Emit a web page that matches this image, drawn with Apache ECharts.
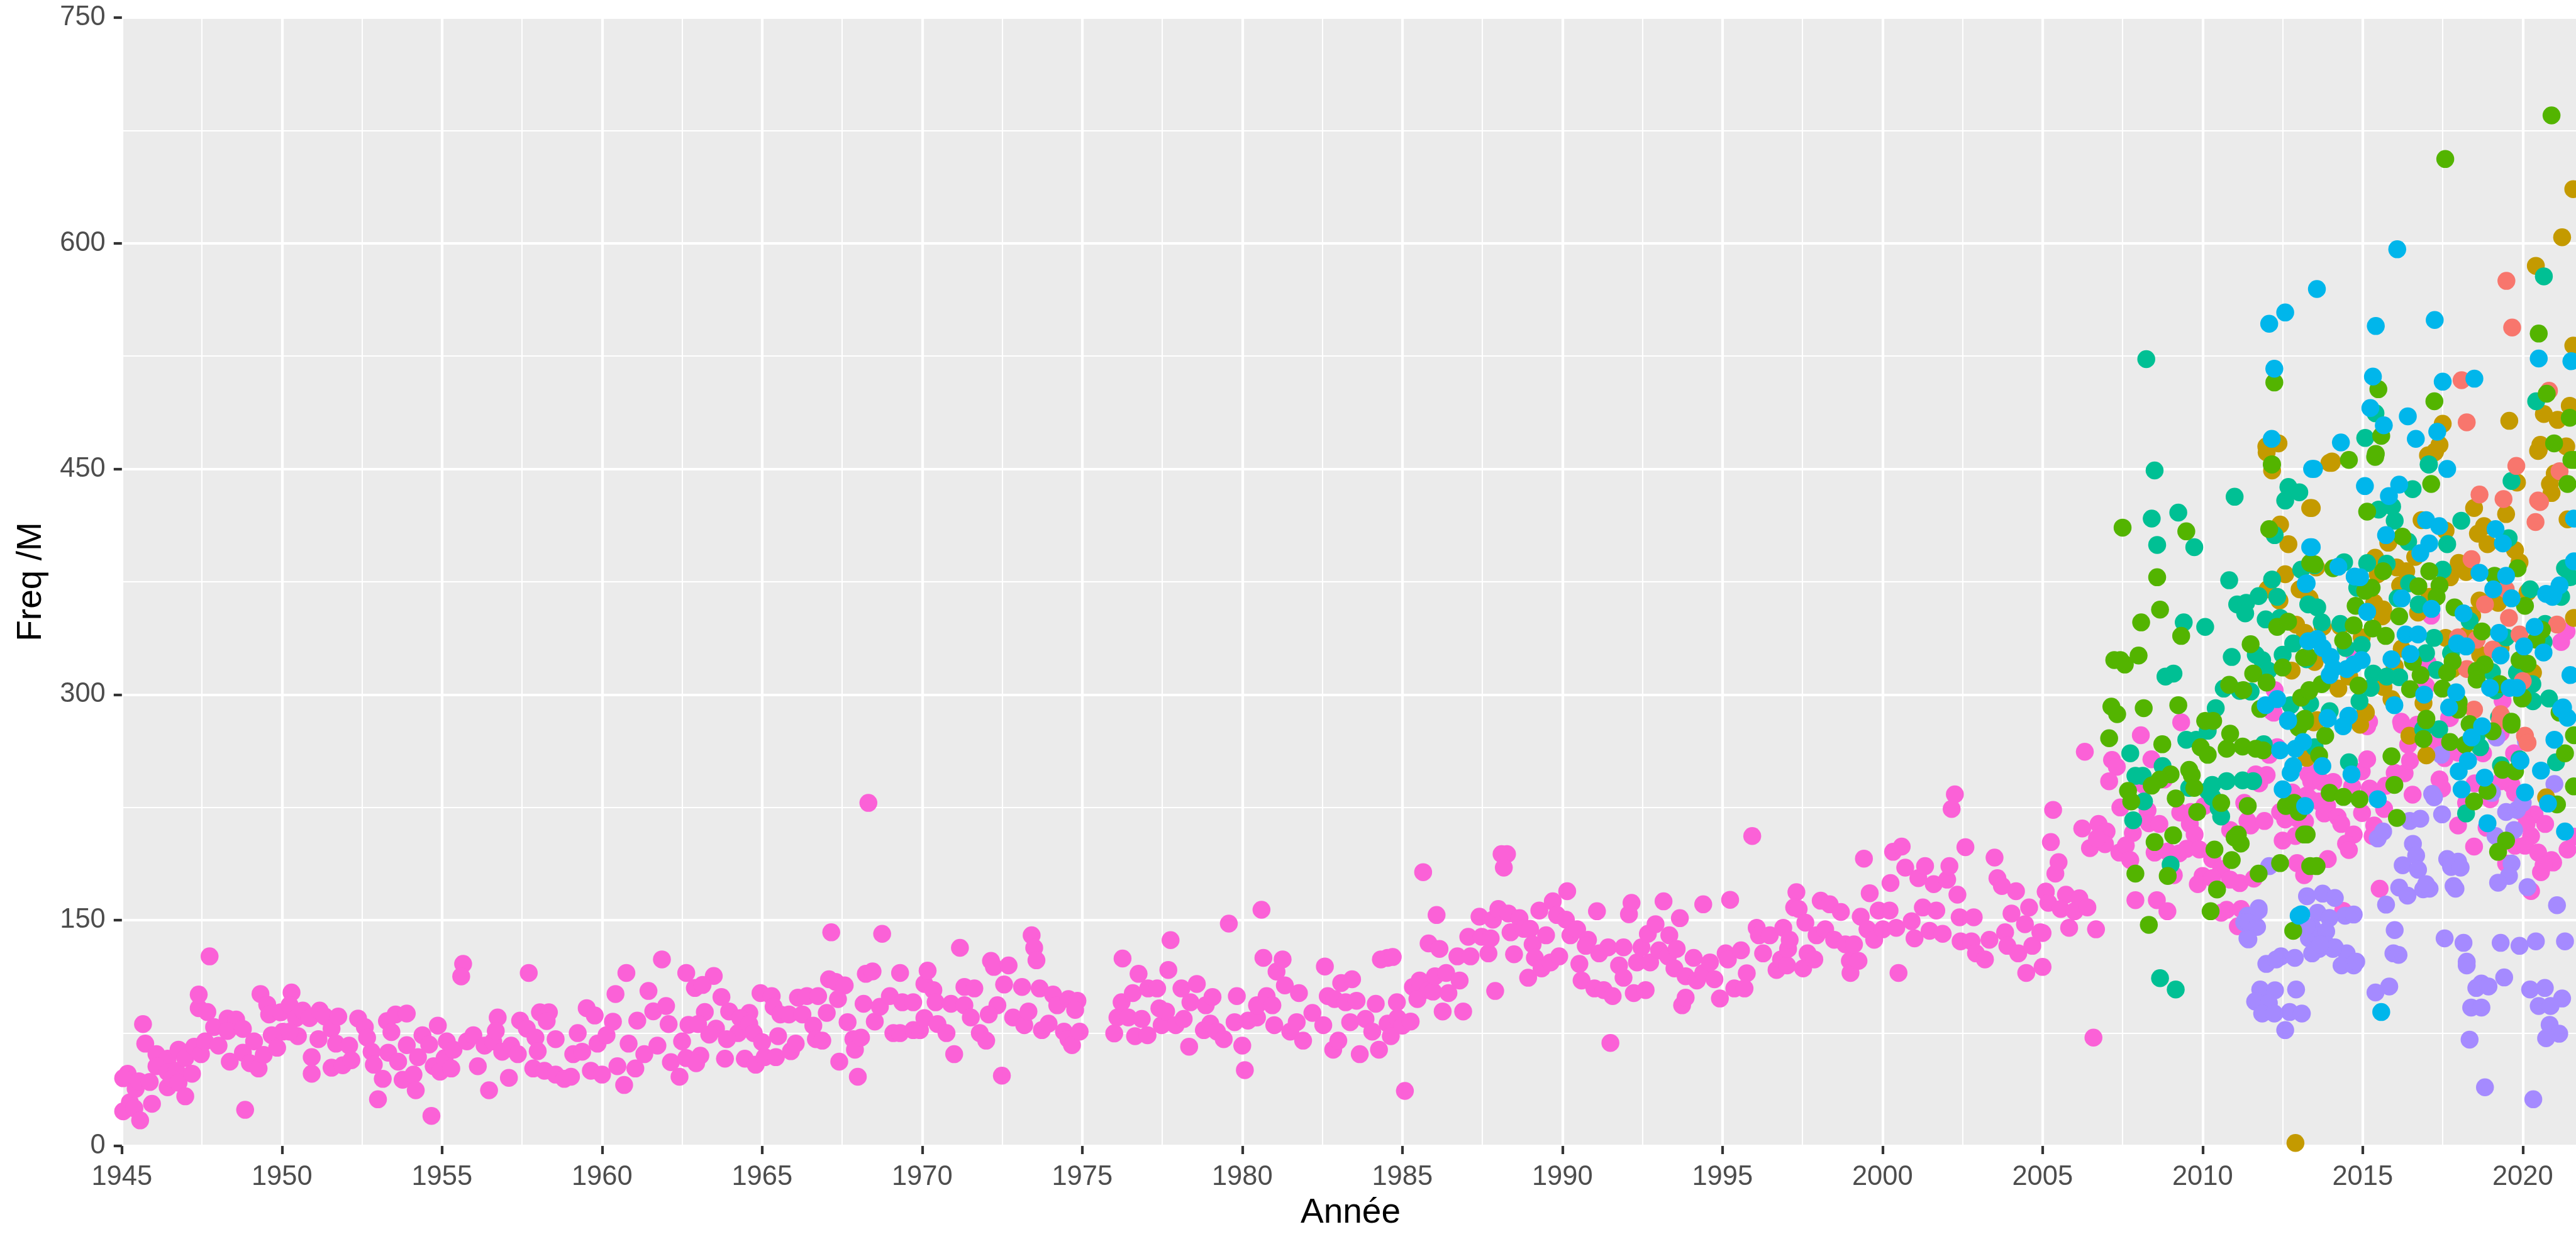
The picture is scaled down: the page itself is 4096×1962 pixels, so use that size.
<!DOCTYPE html>
<html><head><meta charset="utf-8"><style>html,body{margin:0;padding:0;background:#fff;overflow:hidden}#c{width:4096px;height:1962px}</style>
<script src="https://cdn.jsdelivr.net/npm/echarts@6/dist/echarts.min.js"></script></head><body><div id="c"></div>
<script>
const yearTicks=[1945,1950,1955,1960,1965,1970,1975,1980,1985,1990,1995,2000,2005,2010,2015,2020];
const freqTicks=[0,150,300,450,600,750];
const colorNames=["pink","purple","gold","teal","salmon","green","blue"];
const pink1945=[1945.18,48,1945.04,45,1945.25,29,1945.04,23,1945.39,25,1945.43,38,1945.57,17,1945.53,43,1945.87,42.5,1945.94,28,1945.73,68,1945.66,81,1946.08,61,1946.43,58,1946.08,53,1946.43,49,1946.43,39,1946.77,64,1946.7,50,1946.57,44.6,1946.98,58.4,1946.77,42,1946.98,33,1947.19,48,1947.26,66,1947.47,61,1947.6,69.5,1947.4,91.6,1947.4,100.6,1947.67,89,1947.74,126,1948.02,66.7,1947.88,79,1948.3,84.7,1948.57,84,1948.37,56,1948.3,76.4,1948.78,77.8,1948.78,62,1949.13,69.5,1948.85,24,1949,55,1949.33,101,1949.54,94,1949.6,87.4,1949.27,51.5,1949.43,60.5,1949.68,73.6,1949.85,65.3,1949.96,88.8,1950.03,76,1950.3,102,1950.24,93.6,1950.44,85,1950.5,73,1950.65,90,1950.93,59,1950.93,48,1950.86,85,1951.14,71,1950.24,76,1951.18,90,1951.34,86,1951.55,78,1951.76,86,1951.55,52,1951.69,68,1952.1,66.7,1951.9,53.6,1952.17,57,1952.38,84.7,1952.59,79,1952.66,72,1952.8,62.6,1952.87,54,1953.15,44.6,1953,31,1953.32,62,1953.28,83,1953.42,75.7,1953.55,87.4,1953.9,88,1953.63,56,1953.77,44,1954.11,47.4,1954.18,37,1953.9,67,1954.39,73.6,1954.25,59,1954.6,67.4,1954.74,53,1954.67,20,1954.87,80,1954.94,49.4,1955.08,58.4];
const pink1955=[1955.15,69.5,1955.29,51.5,1955.66,121,1955.6,112.7,1955.36,64,1955.78,69.5,1955.98,73.6,1956.12,53,1956.33,66.7,1956.47,37,1956.6,69.5,1956.74,85.4,1956.68,76.4,1956.88,62.6,1957.09,45.3,1957.16,66.7,1957.44,83.3,1957.65,78,1957.71,115,1957.37,61,1957.85,51.5,1957.92,72,1958.06,88.8,1958.34,88.8,1958.27,83,1957.99,63,1958.2,50,1958.55,71,1958.55,47.4,1958.82,44.6,1959.03,46,1959.1,61,1959.24,75,1959.38,62.6,1959.52,91.6,1959.77,86.7,1959.65,50,1960,47.4,1959.86,68,1960.14,73.6,1960.34,82.6,1960.42,101,1960.48,53,1960.69,40.5,1960.76,115,1960.83,68,1961.04,51.5,1961.1,83.3,1961.32,61,1961.45,103,1961.6,89.5,1961.87,124,1962,93,1961.73,66.7,1962.42,46,1962.15,55.7,1962.08,81,1962.63,115,1962.5,69.5,1962.7,80.5,1962.63,58.4,1962.9,105,1963.49,113,1963.14,107,1963.73,99,1963.21,89,1963,81,1963.56,78,1963.35,74,1963.07,60,1962.94,55,1963.84,58,1963.97,89.4,1964.6,88.4,1964.32,85,1964.25,75,1964.6,81,1963.9,71,1964.46,58,1964.8,54,1964.74,75,1965,69,1964.95,101.6];
const pink1965=[1965.3,99.6,1965.36,92.5,1965.57,87.4,1965.5,73,1965.08,59,1965.43,59,1965.9,63,1966.05,68,1965.84,87.4,1966.12,98.6,1966.4,99.6,1966.26,87.4,1966.6,80,1966.68,71,1966.88,70,1966.75,99.6,1967.02,88.4,1967.09,110.8,1967.16,142,1967.3,109,1967.58,106.7,1967.37,97.6,1967.67,82.3,1967.41,56,1967.85,71,1967.99,46,1967.9,64,1968.09,72,1968.17,94.5,1968.24,114.4,1968.45,116,1968.32,228,1968.52,82.7,1968.75,141,1968.68,92.5,1968.99,99.6,1969.1,75,1969.31,115,1969.31,75,1969.38,95.5,1969.72,77,1969.72,95.5,1969.93,77,1970.07,85,1970.07,107.7,1970.17,116.5,1970.35,103.6,1970.48,81,1970.42,95.5,1970.76,75,1971,61,1971.18,131.7,1970.9,94.5,1971.32,105.7,1971.63,104.7,1971.32,93.5,1971.52,85.4,1971.8,75,1972,70,1972.15,123,1972.24,119,1972.7,120,1972.49,46.7,1972.35,93.5,1972.56,107.3,1972.08,87.4,1972.84,85.4,1973.12,105.7,1973.19,80.3,1973.32,89.4,1973.42,140,1973.5,131.7,1973.57,123.4,1973.67,104.7,1973.74,77,1974.09,100.6,1973.95,81.3,1974.22,93.5,1974.43,76,1974.57,71,1974.68,67,1974.57,97.6,1974.85,96.5,1974.78,90.4,1974.92,76];
const pink1976=[1976,74.8,1976.1,85.4,1976.26,124.6,1976.23,95.5,1976.58,101.6,1976.44,85.4,1976.65,73,1976.76,114.4,1976.86,84.4,1977.04,73.6,1977.06,104.7,1977.34,104.7,1977.41,91.5,1977.69,117,1977.76,136.8,1977.48,80.3,1977.62,89.4,1977.92,80.3,1978.17,84.4,1978.1,104.7,1978.34,66,1978.58,107.7,1978.38,95.5,1978.8,77,1978.86,93.5,1979.07,99,1979,81.3,1979.21,76,1979.42,71,1979.58,147.8,1979.76,82.3,1979.83,99.6,1980,66.7,1980.08,50.4,1980.18,83.3,1980.46,85.4,1980.46,93.5,1980.6,157,1980.66,125,1980.76,99.6,1981,80.3,1981.07,115.9,1981.26,124,1980.94,93.5,1981.33,106.7,1981.77,101.6,1981.5,76,1981.7,82.3,1981.9,70,1982.19,88.4,1982.58,119.3,1982.67,99.6,1982.53,80.3,1982.88,97.6,1982.84,64,1983,70,1983.09,108.3,1983.43,110.8,1983.23,95.5,1983.37,82.3,1983.67,61,1983.57,96.5,1983.85,84.4,1984.06,76,1984.17,94.5,1984.27,64,1984.33,124,1984.54,125,1984.54,81.3];
const pink1985=[1984.7,125.6,1984.83,95.5,1984.64,73,1984.85,85,1985,80,1985.26,82.7,1985.08,36.6,1985.33,105.7,1985.54,110,1985.47,97.6,1985.82,103.6,1985.96,102.6,1985.65,182,1985.82,134.6,1986.02,112.8,1986.07,153.5,1986.16,131,1986.26,89.4,1986.37,115,1986.44,101.6,1986.72,126,1986.79,110,1986.9,89.4,1987.06,139,1987.13,126,1987.41,152.4,1987.48,139,1987.69,128,1987.76,138,1987.9,103,1987.83,150.4,1988,157.5,1988.1,194,1988.27,194,1988.17,185,1988.31,154.5,1988.38,142,1988.49,127.4,1988.66,151.4,1988.8,144.3,1988.93,111.8,1988.99,144.3,1989.07,134,1989.14,125,1989.28,156.5,1989.35,118,1989.49,140,1989.63,122,1989.7,162.6,1989.9,126,1989.83,153.5,1990.11,150.4,1990.15,169.3,1990.25,140,1990.46,144,1990.53,121,1990.6,110,1990.8,137,1990.73,133,1991,104.7,1991.08,156,1991.15,128,1991.29,103.6,1991.43,132,1991.5,68.5,1991.57,99.6,1991.77,120,1991.91,132,1991.91,111.8,1992.08,154,1992.16,161.6,1992.23,101.6,1992.33,122,1992.6,103.6,1992.47,132,1992.67,141,1992.91,147.4,1992.74,122,1993.02,130,1993.16,162.6,1993.34,140,1993.3,126,1993.57,131,1993.5,118,1993.67,151.4,1993.74,93.5,1993.85,98.6,1993.85,112.8,1994.1,125,1994.2,110,1994.4,160.6,1994.4,115,1994.61,122,1994.75,110.8,1994.92,98];
const pink1995=[1995.1,128,1995.24,163.6,1995.17,124,1995.37,104.7,1995.58,130,1995.69,104.7,1995.76,114.8,1995.93,206,1996.07,145,1996.14,140,1996.27,128,1996.48,140,1996.69,117,1996.9,145,1996.83,124,1997.02,120,1997.05,131,1997.31,168.7,1997.24,158.5,1997.38,157.5,1997.1,137,1997.52,118,1997.59,148.4,1997.66,128,1997.87,124,1997.94,140,1998.07,163,1998.35,160.6,1998.21,144,1998.49,137,1998.7,155.5,1998.84,134,1998.98,123,1999,115,1999.25,123,1999.32,152.4,1999.11,134,1999.42,191,1999.6,168,1999.53,144,1999.74,137,1999.88,156.5,2000.22,156.5,2000.01,144,2000.25,174.8,2000.33,195.5,2000.5,115,2000.6,199,2000.43,145,2000.71,185,2000.91,149.4,2001,138,2001.12,178,2001.33,186,2001.26,158.5,2001.47,143,2001.6,174,2001.68,156.5,2001.88,141,2002.02,177,2002.09,186,2002.16,224,2002.26,233.7,2002.34,167,2002.44,136,2002.41,152,2002.59,198.6,2002.85,152,2002.78,136,2002.92,128,2003.2,124,2003.34,137,2003.5,191.7,2003.59,178,2003.73,172.8,2003.83,142,2003.9,133,2004.03,154.5,2004.17,169.3,2004.24,128,2004.45,147.4,2004.49,115,2004.68,133,2004.58,158.5,2004.93,142,2005,119,2005.1,169];
const pink2005=[2005,141.5,2005.1,169,2005.73,167,2006.15,164.6,2005.18,161.6,2005.57,157.5,2006,156,2006.4,158.6,2005.83,145,2006.67,144,2006.59,72,2005.4,181,2005.5,188.6,2005.26,202,2005.33,223.4,2006.32,262,2006.24,211,2006.75,214,2007,209,2006.48,198,2006.95,200.6,2006.7,204.4,2007.17,256.6,2007.32,252,2007.08,242.4,2007.43,225,2007.82,208,2007.4,195,2007.6,199.7,2007.74,190,2007.9,163.4,2008.57,163.4,2008.9,156,2008.07,273,2008.4,257,2008.16,240,2008.8,243.6,2008.28,223,2008.32,214.5,2008.65,214,2008.5,195,2008.9,195.7,2009.27,194.5,2009.1,180,2009.33,281.6,2009.3,221.6,2009.63,222,2009.6,214,2009.75,207,2009.5,197.5,2009.9,197,2010.05,226,2010.3,190.7,2010.58,184,2010,179.5,2009.85,174,2010.3,178,2010.86,177,2010.86,210,2010.75,157,2010.58,155,2011.16,174.7,2011.2,157.5,2011.1,146,2011.3,228,2011.4,216,2011.5,213,2011.6,177.7,2011.66,247,2012,246.5,2011.77,241,2011.93,216,2012.17,288.7,2012.08,260,2012.33,265,2012.25,303,2012.22,288,2012.42,222,2012.58,217,2012.5,203,2012.9,206,2012.97,217.5,2012.8,235,2012.95,188,2013.17,180,2013.2,215.6,2013.25,233,2013.3,247];
const pink2013=[2013.41,248,2013.39,242.4,2013.72,242,2014.08,242,2014.67,239,2013.63,229,2013.36,230.5,2013.89,226,2013.8,221,2014.22,218.6,2014.33,214,2013.91,190.7,2014.72,207,2014.48,201,2014.57,196.7,2014.39,156.3,2014.98,221.3,2014.97,249,2015.14,279,2015.14,257,2015.22,237.6,2015.36,213,2015.31,206,2015.67,224,2015.72,239.4,2015.53,171,2016.22,280,2016,248,2016.31,247.7,2016.56,233.5,2016.42,266.7,2016.48,256,2016.7,280,2017.73,284.6,2017.31,269,2017.56,257.8,2017.4,243.6,2017.48,237.6,2017.98,261.4,2017.98,213,2018.76,261,2018.5,241,2018.98,230.5,2018.23,228,2018.48,199,2018.87,211.5,2019.32,242.4,2019.65,240,2019.76,234.7,2019.73,261,2019.31,274.5,2019.48,187.7,2019.76,199.6,2020.37,220.4,2019.96,222,2020.12,214,2020.7,214,2020.26,206,2020.07,199.6,2020.48,195,2020.9,190,2021.4,197,2021.6,205.6,2020.95,188.4,2020.57,182,2020.65,186.6,2020.26,169.4,2014.72,327.6,2017.14,352.5,2021.2,335,2021.37,342,2017.03,321,2016.98,305.7,2019.37,296,2017.7,284.4,2016.2,282,2015.2,282];
const purpleValues=[2012.08,186,2011.75,158,2011.4,153,2011.3,148.6,2011.58,147,2011.4,138,2011.75,156.5,2011.43,148.5,2011.7,145.6,2011.43,137.3,2011.99,121,2012.45,126,2012.88,125,2012.3,124,2011.8,104,2012.26,103.5,2012.92,104,2011.64,96,2012.07,95,2011.86,88,2012.24,88,2012.72,89,2013.1,88,2012.58,77,2013.26,166,2013.75,167.7,2014.13,164.8,2013.59,155,2014.45,153,2014.72,153.8,2013.96,151.5,2013.42,145.6,2013.32,138,2013.59,139.6,2013.86,142.6,2013.64,131,2014.13,132,2013.42,128,2013.86,134,2014.5,128,2014.07,131,2014.34,120,2014.72,120,2014.8,122.5,2013.67,134,2013.25,146,2015.83,106,2015.4,102,2015.96,128,2016.12,127,2016,143.5,2015.47,204.4,2015.64,209,2015.73,160.4,2016.47,216,2016.8,217.5,2016.57,200.8,2016.67,193,2016.25,186.6,2016.73,183.6,2016.14,171.7,2016.4,166.4,2016.89,170.6,2017.09,171,2016.98,174,2017.17,234,2017.23,231.7,2017.48,220.4,2017.45,260,2017.64,190.7,2017.98,189,2017.76,185.4,2018.06,185,2017.84,172.8,2017.9,171,2017.56,138,2018.15,135,2018.25,120,2018.25,122.5,2019.42,112,2018.71,108,2018.55,105,2018.93,106,2018.39,92,2018.71,92,2018.34,70.7,2018.82,39,2019.65,187.7,2019.57,179.5,2019.23,175,2020.15,172,2019.31,135,2019.9,133,2020.41,136,2021.32,136,2020.23,104,2020.69,105,2021.23,98,2020.5,93,2020.87,93,2020.84,80.5,2021.14,74.6,2020.73,71.6,2020.33,31,2021.07,160,2019.18,271.5,2020.1,269,2020.99,240.6,2019.04,234.7,2019.48,222,2019.82,223.4,2020,228,2019.73,210,2019.15,206];
const goldValues=[2012.17,449,2012,461,2012.42,413,2012.68,400,2012.58,380,2013.36,424,2012.03,370,2013.03,370,2013.34,364,2012.4,362.5,2012.92,346.5,2013.2,341,2012.78,316,2013.25,258,2012.9,2,2014.03,454,2013.41,424,2016.84,416,2017.59,409,2018.48,424,2019.48,420,2019.82,441,2017.25,461,2020.48,462,2021,447,2020.85,440,2020.9,434,2021.4,416.5,2018.79,412,2018.6,407,2018.9,400,2019.76,396,2019.9,388,2015.8,401,2016.64,391.5,2015.39,391,2016.06,384.5,2016.36,382,2015.47,380,2017.73,378,2018,387.5,2018.23,381.5,2013.55,384.5,2016.17,372.6,2015.36,361,2015.64,356.6,2015.61,352,2016.73,354.5,2017.09,365,2018.42,352.5,2018.65,362.6,2019.23,361,2020.15,368,2021.6,351,2013.36,362,2013.75,345,2014.3,345.4,2014.97,338,2017.59,337.7,2018.23,339,2016.22,330.6,2018.67,326.4,2019.31,331,2016,318.7,2014.58,312,2013.5,321.7,2020.32,314.6,2014.24,304,2015.65,305,2015.9,297,2017.81,317,2016.9,294.4,2015.1,288,2013.58,283,2014.92,280,2015.08,288.7,2016.46,272.7,2016.99,259.6,2020.73,231.7,2013.47,281.6,2021.23,604,2021.58,636,2020.41,585,2019.58,482,2021.58,532,2021.47,492,2020.66,486.5,2021.09,482.6,2020.55,466,2021.36,465,2020.5,462.7,2017.5,480,2017.4,466,2017.26,461.5,2017.04,459,2014.04,455,2013.96,454,2011.99,465,2012.37,467];
const tealValues=[2008.5,449,2011,431.5,2012.68,438,2013.02,434.5,2012.58,429,2009.24,421,2008.41,417,2008.58,399.5,2009.74,398,2012.25,406,2010.83,376,2012.17,376.5,2013.08,383,2012.33,365,2011.08,360,2011.36,361,2011.75,365.5,2011.33,354,2013.3,360,2011.97,350,2012.42,351,2009.41,348,2010.08,345,2012.83,334,2012.5,326.5,2013.25,323.5,2010.91,325,2011.66,326.5,2011.86,323,2012.05,316,2008.84,312,2009.09,314,2010.66,304,2011.16,302.5,2011.5,302,2012.75,293,2010.41,291,2013.14,283,2007.74,261,2008.75,252.5,2007.9,246,2008.13,246,2009.49,270,2009.8,270,2010.16,276,2009.58,238,2010.16,236,2010.3,240,2010.3,232,2010.75,242.5,2011.25,243,2011.58,242.5,2011.91,267,2008.17,229,2007.83,216.5,2010.58,219,2009,187,2010.5,224.6,2008.67,111.5,2009.16,104,2016.56,436.6,2015.5,423,2015.92,425,2016,415.6,2017.06,453,2018.08,415.6,2019.65,442,2016.42,401.6,2017.64,400,2019.56,404,2013.5,386,2014.42,388,2015.14,387.4,2015.75,387,2017.5,383,2016.45,374,2016.75,360,2021.32,384,2020.23,370,2014.83,371,2021.2,365,2021.49,378,2013.58,358,2016.09,364,2013.72,348,2014.3,347,2018.34,349,2017.23,337.7,2019.48,338,2020.7,347,2014.97,333,2014.47,331,2016.98,327.6,2017.76,327.6,2020.65,335,2017.31,316.4,2015.33,314,2015.75,312,2016.14,311.6,2015.25,304.5,2019.82,314.6,2019.04,315,2019.15,302.7,2014.9,295.6,2013.36,294,2013.97,289,2020.32,295.6,2020.82,297.4,2019.26,285,2020.3,307,2017.39,277,2016.89,277,2018.56,272.7,2018.67,265,2014.57,255,2019.32,253,2019.37,284.6,2019.9,257,2018.23,221,2021.04,255,2013.5,265,2008.24,523,2015.08,470.6,2017.07,453,2020.42,495,2020.66,578,2015.4,487];
const salmonValues=[2019.8,452,2018.65,433,2019.4,430,2021.15,448.5,2020.48,429,2020.54,428,2020.4,414.7,2018.4,390,2019.47,370,2018.82,360,2019.57,351,2021.07,346.6,2017.98,338,2018.56,336.5,2019.9,340,2019.06,330,2018.26,317,2020,309,2018.48,290,2019.29,283,2019.31,287,2020.07,272.7,2020.15,268,2019.49,575,2019.67,544,2018.09,509,2020.82,502,2018.25,481];
const greenValues=[2007.5,411,2009.49,408.5,2008.58,378,2008.67,356.5,2008.08,348,2009.33,339,2011.5,333.5,2007.24,323,2007.43,323,2007.57,320,2008,326,2012.5,318,2011.58,314,2012,308,2010.83,306.5,2011.27,303,2012.17,453,2012.08,410,2012.33,345,2012.67,348.5,2013.36,387.5,2013.3,325,2013.08,298,2013.33,302.5,2007.15,292,2007.33,287,2008.16,291,2009.24,293,2010.08,282.5,2010.33,282.5,2007.08,271,2008.74,267,2010.86,274,2009.94,265,2010.16,260,2010.75,264,2011.25,265.5,2011.66,264,2011.89,263,2009.58,250,2009.66,246.5,2009,247,2008.66,243.5,2008.41,239.5,2007.67,236,2007.77,229,2009.16,231,2009.74,238,2010.58,228,2011.41,226,2009.83,222,2011.1,207,2011.19,201,2011,205,2009.08,206.5,2008.5,202,2010.37,197,2010.91,190,2007.9,181,2008.91,179.5,2010.45,170.5,2011.75,181,2012.42,188,2010.25,156,2008.32,147,2012.83,143,2011.8,290.5,2013,278,2013.2,284,2012.6,226,2012.86,228,2013,222,2013.17,207,2013.36,186,2014.57,456,2015.39,458,2017.14,440,2021.6,456,2015.14,421.6,2021.4,440,2016.24,405,2013.5,386.6,2014.08,384,2015.64,382,2017.08,382,2019.84,384,2019.12,379,2017.4,372.6,2016.74,372,2015.28,371,2015.08,369,2017.31,365,2014.78,359,2017.87,358,2020.07,359,2016.14,352,2014.72,346,2015.31,344,2014.39,336,2015.72,339,2018.73,342,2020.6,343,2020.43,336.5,2013.17,324.6,2016.57,321.7,2017.81,322,2016.81,313,2019.9,323,2020.15,320.5,2018.81,320,2018.56,315.8,2018.56,310,2017.64,314.6,2013.72,307,2014.87,306,2016.48,303.6,2017.49,304,2019.29,307,2013.33,303,2018,295,2017.98,290,2019.98,297.4,2021.15,288,2016.98,283,2019.65,282,2020,298,2013.2,282,2013.83,272.7,2013.64,259.6,2016.99,284,2016.9,270.5,2017.73,268.5,2018.2,266.7,2017.98,291.7,2019.06,275.6,2019.65,280,2018.34,280.4,2015.9,259,2019.37,250,2019.76,249,2021.32,261,2018.9,236,2018.48,229,2015.99,240,2013.97,234.7,2014.4,232,2014.9,230.5,2016.07,218,2021.07,227,2021.6,239,2019.48,203,2019.23,195.5,2013.56,186,2013.25,207,2021.6,273,2020.9,685,2017.58,656,2020.5,540,2012.24,507.5,2015.49,503,2017.24,495,2015.58,472,2015.41,460,2012.16,453,2020.75,500,2020.98,467,2021.47,484,2021.52,456];
const blueValues=[2013.42,450,2013.36,398,2013.22,373.5,2013.3,335.5,2011.97,293,2012.33,297,2012.67,283,2012.67,282.5,2012.42,263,2012.9,264,2013.14,268.5,2012.83,252.5,2012.75,248,2012.5,237,2013.2,226,2013.08,154,2013,153,2013.48,450,2015.07,438.6,2016.14,439.6,2015.82,432,2013.41,398,2015.73,406,2016.98,416,2017.39,412,2017.64,450,2017.08,400.5,2016.8,394,2019.15,410,2019.38,400.5,2021.6,417,2014.24,385,2014.75,378.5,2014.92,378,2018.65,381,2019.48,379,2019.08,370,2013.25,374,2016.22,364,2019.65,364,2021.6,388.6,2020.73,367,2020.96,367,2021.15,372.6,2020.93,365,2015.14,355,2017.15,357,2018.15,354,2016.34,340,2016.73,340,2019.26,341,2020.37,345,2020.04,332,2017.95,334,2018.23,332,2013.58,337,2013.75,331,2014,325,2014.08,317.5,2013.97,313,2014.5,317,2014.72,320,2014.97,323,2016.49,327,2015.9,323.5,2019.31,326,2020.65,328,2021.49,313,2018.98,304.5,2019.59,304.5,2019.82,304.5,2017.92,301.5,2016.92,300,2017.7,291.5,2015.99,293,2014.57,286,2013.9,284.5,2021.26,291.5,2013.91,284,2014.55,285.7,2014.39,279,2018.73,279,2018.4,271.5,2020.99,270,2021.2,290.5,2021.4,284.6,2018.29,256,2018,249,2018.09,237,2018.81,244.8,2019.93,256,2020.57,249.5,2020.07,235,2013.74,252.5,2014.65,247,2015.47,230.5,2020.79,227.6,2018.9,214.5,2021.32,209,2015.58,89,2016.08,596,2013.57,569.6,2012.58,554,2012.08,546.5,2015.41,545,2017.25,549,2020.5,523.4,2021.52,521.6,2012.24,516.6,2015.32,511.4,2018.49,510,2017.5,508,2015.24,490.5,2016.41,485,2015.66,479,2017.33,474.7,2016.66,470,2014.32,467.6,2012.16,470];
const pinkValues=[].concat(pink1945,pink1955,pink1965,pink1976,pink1985,pink1995,pink2005,pink2013);
const seriesValues={pink:pinkValues,purple:purpleValues,gold:goldValues,teal:tealValues,salmon:salmonValues,green:greenValues,blue:blueValues};
const palette={pink:"#FB61D7",purple:"#A58AFF",gold:"#C49A00",teal:"#00C094",salmon:"#F8766D",green:"#53B400",blue:"#00B6EB"};
function pairs(a){const o=[];for(let i=0;i+1<a.length;i+=2)o.push([a[i],a[i+1]]);return o;}
const chart=echarts.init(document.getElementById('c'),null,{renderer:'canvas'});
const font='"Liberation Sans",Arial,sans-serif';
const split={show:true,lineStyle:{color:'#fff',width:4.2}};
const minor={show:true,lineStyle:{color:'#fff',width:2.1}};
const tick={show:true,length:13,inside:false,lineStyle:{color:'#333',width:4.2}};
chart.setOption({
 animation:false,backgroundColor:'#fff',
 grid:{left:193.8,top:28,width:4072,height:1794,show:true,backgroundColor:'#EBEBEB',borderWidth:0,containLabel:false,outerBoundsMode:'none'},
 graphic:[{type:'text',left:2068,top:1901,style:{text:'Année',font:'55px '+font,fill:'#000'},z:10}],
 xAxis:{type:'value',min:1945,max:2025,interval:5,
  axisLine:{show:false},axisTick:tick,minorTick:{show:false,splitNumber:2},
  splitLine:split,minorSplitLine:minor,
  axisLabel:{show:true,margin:28,fontFamily:font,fontSize:43.5,color:'#4D4D4D',showMaxLabel:false,formatter:v=>yearTicks.includes(v)?String(v):''}},
 yAxis:{type:'value',min:freqTicks[0],max:freqTicks[freqTicks.length-1],interval:150,
  name:'Freq /M',nameLocation:'middle',nameGap:116,nameRotate:90,nameTextStyle:{fontFamily:font,fontSize:55,color:'#000'},
  axisLine:{show:false},axisTick:tick,minorTick:{show:false,splitNumber:2},
  splitLine:split,minorSplitLine:minor,
  axisLabel:{show:true,margin:26,fontFamily:font,fontSize:43.5,color:'#4D4D4D'}},
 series:colorNames.map(n=>({name:n,type:'scatter',symbol:'circle',symbolSize:28.5,clip:true,data:pairs(seriesValues[n]),itemStyle:{color:palette[n],opacity:1},emphasis:{disabled:true},large:false}))
});
</script></body></html>
